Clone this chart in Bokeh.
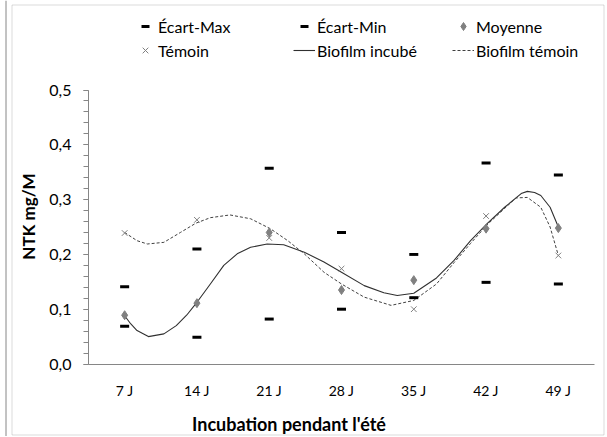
import math
from bokeh.plotting import figure
from bokeh.models import (FixedTicker, CustomJSTickFormatter, Legend, LegendItem,
                          Label, BoxAnnotation, Span, Range1d)
from bokeh.embed import file_html
from bokeh.resources import INLINE

# ---- data ----
days = [7, 14, 21, 28, 35, 42, 49]
tick_labels = ["7 J", "14 J", "21 J", "28 J", "35 J", "42 J", "49 J"]
ecart_max = [0.141, 0.210, 0.357, 0.240, 0.200, 0.367, 0.345]
ecart_min = [0.069, 0.049, 0.082, 0.100, 0.121, 0.149, 0.146]
moyenne = [0.089, 0.111, 0.240, 0.135, 0.153, 0.247, 0.248]
temoin = [0.239, 0.263, 0.230, 0.174, 0.100, 0.270, 0.198]

# smooth trend curves
incube_days = [7, 7.6, 8.2, 9.3, 10.8, 12.0, 13.0, 13.9, 15.3, 16.6, 17.9, 19.2, 20.8,
               22.4, 24.4, 26.3, 28.0, 30.2, 32.1, 33.4, 35.0, 37.2, 38.9, 40.5,
               42.1, 43.8, 45.4, 46.0, 46.7, 47.3, 48.2, 49.0]
incube_vals = [0.088, 0.073, 0.061, 0.050, 0.055, 0.070, 0.089, 0.110, 0.146, 0.180,
               0.201, 0.213, 0.219, 0.2175, 0.204, 0.186, 0.1675, 0.143, 0.130, 0.125,
               0.129, 0.157, 0.189, 0.225, 0.256, 0.286, 0.311, 0.315, 0.313, 0.3075,
               0.286, 0.250]
temoin_days = [7, 8.2, 9.2, 10.8, 12.4, 13.9, 15.3, 17.2, 19.2, 21.1, 22.8, 24.4,
               26.3, 28.0, 30.2, 32.8, 35.0, 37.2, 38.9, 40.5, 42.1, 43.8, 44.9,
               46.0, 47.3, 48.2, 49.0]
temoin_vals = [0.240, 0.225, 0.219, 0.222, 0.240, 0.257, 0.267, 0.272, 0.265, 0.247,
               0.225, 0.201, 0.1675, 0.146, 0.122, 0.107, 0.116, 0.146, 0.185, 0.220,
               0.254, 0.284, 0.303, 0.304, 0.286, 0.250, 0.198]

y_ticks = [0.0, 0.1, 0.2, 0.3, 0.4, 0.5]

FONT = "Lato"
AXIS_GREY = "#868686"

# The frame covers the whole canvas; axes are pinned at x=3.5 and y=0.
W, H = 606, 436
PX_X = 506 / 49.0          # pixels per day
PX_Y = 548.0               # pixels per unit of NTK
X0 = 3.5 - 88 / PX_X       # data x at the canvas' left edge
Y0 = -(H - 363.5) / PX_Y   # data y at the canvas' bottom edge


def dx(sx):  # canvas pixel -> data x
    return X0 + sx / PX_X


def dy(sy):  # canvas pixel (from top) -> data y
    return Y0 + (H - sy) / PX_Y


p = figure(width=W, height=H, output_backend="svg", toolbar_location=None,
           x_range=Range1d(X0, X0 + W / PX_X), y_range=Range1d(Y0, Y0 + H / PX_Y),
           min_border=0)
p.outline_line_color = None
p.xgrid.visible = False
p.ygrid.visible = False
p.background_fill_color = "white"
p.border_fill_color = "white"

# chart frame (double line on the left)
p.add_layout(BoxAnnotation(left=dx(11.5), right=dx(603.5), top=dy(4.5), bottom=dy(434.5),
                           fill_alpha=0, line_color=AXIS_GREY, line_width=1))
p.add_layout(Span(location=dx(5.5), dimension="height", line_color=AXIS_GREY,
                  line_width=1))

# curves
r_inc = p.line(incube_days, incube_vals, line_color="#303030", line_width=1.1)
r_tline = p.line(temoin_days, temoin_vals, line_color="#404040", line_width=1,
                 line_dash="3 2")
# markers
r_max = p.scatter(days, ecart_max, marker="dash", size=9, line_color="black", line_width=3)
r_min = p.scatter(days, ecart_min, marker="dash", size=9, line_color="black", line_width=3)
r_moy = p.scatter(days, moyenne, marker="diamond", size=9, fill_color="#808080",
                  line_color="#808080")
r_tem = p.scatter(days, temoin, marker="x", size=8, line_color="#808080", line_width=1)

# axes
xa = p.xaxis[0]
xa.fixed_location = 0
xa.bounds = (3.5, 52.5)
xa.ticker = FixedTicker(ticks=days)
xa.major_label_overrides = {d: lab for d, lab in zip(days, tick_labels)}
xa.major_tick_out = 0
xa.major_tick_in = 0
xa.minor_tick_out = 0
xa.minor_tick_in = 0
xa.axis_line_color = AXIS_GREY
xa.major_label_standoff = 18
xa.major_label_text_font = FONT
xa.major_label_text_font_size = "14px"
xa.major_label_text_color = "black"

ya = p.yaxis[0]
ya.fixed_location = 3.5
ya.bounds = (0, 0.5)
ya.ticker = FixedTicker(ticks=y_ticks, minor_ticks=[round(k * 0.02, 2) for k in range(26)])
ya.formatter = CustomJSTickFormatter(code="return tick.toFixed(1).replace('.', ',');")
ya.axis_line_color = AXIS_GREY
ya.major_tick_line_color = AXIS_GREY
ya.minor_tick_line_color = AXIS_GREY
ya.major_tick_in = 0
ya.major_tick_out = 5
ya.minor_tick_in = 0
ya.minor_tick_out = 5
ya.major_label_standoff = 12
ya.major_label_text_font = FONT
ya.major_label_text_font_size = "16px"
ya.major_label_text_color = "black"

# axis titles
p.add_layout(Label(x=dx(27.5), y=dy(216), text="NTK mg/M", angle=math.pi / 2,
                   text_align="center", text_baseline="middle", text_font=FONT,
                   text_font_style="bold", text_font_size="17px", text_color="black"))
p.add_layout(Label(x=dx(288.5), y=dy(423), text="Incubation pendant l'été",
                   text_align="center", text_baseline="middle", text_font=FONT,
                   text_font_style="bold", text_font_size="18px", text_color="black"))


# legend: three columns of two rows
def add_legend(items, sx):
    lg = Legend(items=items, location=(sx, H - 16 - 44), orientation="vertical",
                padding=0, spacing=4, glyph_width=22, glyph_height=20,
                label_height=20, label_standoff=2, label_text_font=FONT,
                label_text_font_size="16px", label_text_color="black",
                border_line_color=None, background_fill_alpha=0, margin=0)
    p.add_layout(lg)


add_legend([LegendItem(label="Écart-Max", renderers=[r_max]),
            LegendItem(label="Témoin", renderers=[r_tem])], 134)
add_legend([LegendItem(label="Écart-Min", renderers=[r_min]),
            LegendItem(label="Biofilm incubé", renderers=[r_inc])], 293)
add_legend([LegendItem(label="Moyenne", renderers=[r_moy]),
            LegendItem(label="Biofilm témoin", renderers=[r_tline])], 452)

open("out.html", "w").write(file_html(p, INLINE))
